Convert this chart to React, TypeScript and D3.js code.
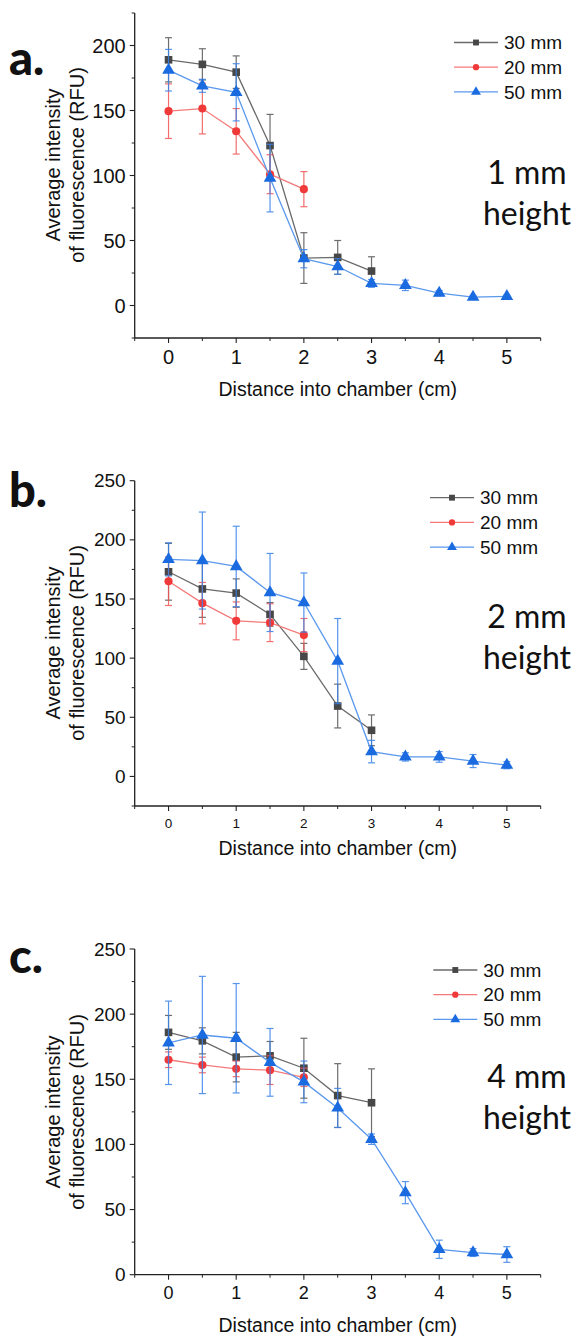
import React from "react";
import * as d3 from "d3";

const distances = [0, 0.5, 1, 1.5, 2, 2.5, 3, 3.5, 4, 4.5, 5];
const seriesNames = ["30 mm", "20 mm", "50 mm"];
const xTicks = [0, 1, 2, 3, 4, 5];

// Panel a (1 mm height)
const a30 = [189, 185.5, 179.5, 123, 36.5, 37, 26.5];
const a30Err = [17, 12, 12.5, 24, 19.5, 13, 11];
const a20 = [149.5, 151.5, 134, 101, 89.5];
const a20Err = [21, 19.5, 17.5, 15, 13.5];
const a50 = [181, 169, 164, 98, 36, 30, 17, 15.5, 9.5, 6.5, 7];
const a50Err = [16, 5, 22, 26, 7, 6, 3, 4, 2, 1, 1];
const aYTicks = [0, 50, 100, 150, 200];

// Panel b (2 mm height)
const b30 = [173, 158.5, 155, 137, 101.5, 59.5, 39];
const b30Err = [24, 24, 12, 10, 11, 18.5, 13];
const b20 = [165, 146.5, 131.5, 130, 119.5];
const b20Err = [20.5, 17.5, 16, 16, 14];
const b50 = [183.5, 182.5, 177.5, 155.5, 147, 97.5, 21, 16.5, 16.5, 13, 9.5];
const b50Err = [14, 41, 34, 33, 25, 36, 9.5, 3.5, 4.5, 5.5, 3];
const bYTicks = [0, 50, 100, 150, 200, 250];

// Panel c (4 mm height)
const c30 = [186, 179.5, 167, 168, 158.5, 137.5, 132];
const c30Err = [13, 10, 19, 11, 23, 24.5, 26];
const c20 = [165, 161, 158, 157, 151.5];
const c20Err = [6, 6, 6, 11, 7];
const c50 = [178, 184, 181.5, 163, 148, 128, 104, 63, 19.5, 17, 15.5];
const c50Err = [32, 45, 42, 26, 16, 15, 4, 8.5, 7, 3, 6];
const cYTicks = [0, 50, 100, 150, 200, 250];

const COLORS = [
  { marker: "#474747", line: "#6a6a6a", err: "#555555" },
  { marker: "#f03a3a", line: "#f47a7a", err: "#f25555" },
  { marker: "#1a6be0", line: "#5a98ee", err: "#3a83ea" },
];
const SYMBOLS = [d3.symbolSquare, d3.symbolCircle, d3.symbolTriangle];
const SIZES = [58, 52, 70];

const SANS = "'Liberation Sans', Arial, sans-serif";
const CAL = "Lato, 'Open Sans', sans-serif";

type PanelCfg = {
  letter: string;
  height: string;
  series: { vals: number[]; errs: number[] }[];
  yDomain: [number, number];
  yRange: [number, number];
  yTicks: number[];
  yMinor: number[];
  yTickFont: number;
  xTickFont: number;
  xTickY: number;
  xTitleY: number;
  yTitleCy: number;
  letterY: number;
  legendX: number;
  legendY: number;
  heightLabelY: number;
};

const xDomain: [number, number] = [-0.5, 5.5];
const xRange: [number, number] = [134.7, 540.7];

function Panel({ cfg }: { cfg: PanelCfg }) {
  const x = d3.scaleLinear().domain(xDomain).range(xRange);
  const y = d3.scaleLinear().domain(cfg.yDomain).range(cfg.yRange);
  const xMinor = d3.range(-0.5, 5.51, 0.5).filter((v) => !xTicks.includes(v));
  const line = d3
    .line<number>()
    .x((_, i) => x(distances[i]))
    .y((d) => y(d));
  const y0 = cfg.yRange[0];
  const axisX = xRange[0];
  return (
    <g>
      {/* axes */}
      <line x1={axisX} x2={axisX} y1={cfg.yRange[0]} y2={cfg.yRange[1]} stroke="#222" strokeWidth={1.3} />
      <line x1={xRange[0]} x2={xRange[1]} y1={y0} y2={y0} stroke="#222" strokeWidth={1.3} />
      {cfg.yTicks.map((t) => (
        <g key={"yt" + t}>
          <line x1={axisX - 5} x2={axisX} y1={y(t)} y2={y(t)} stroke="#222" strokeWidth={1.1} />
          <text x={axisX - 9} y={y(t)} dy="0.35em" textAnchor="end" fontFamily={SANS} fontSize={cfg.yTickFont} fill="#111">
            {t}
          </text>
        </g>
      ))}
      {cfg.yMinor.map((t) => (
        <line key={"ym" + t} x1={axisX - 3} x2={axisX} y1={y(t)} y2={y(t)} stroke="#222" strokeWidth={1} />
      ))}
      {xTicks.map((t) => (
        <g key={"xt" + t}>
          <line x1={x(t)} x2={x(t)} y1={y0} y2={y0 + 5} stroke="#222" strokeWidth={1.1} />
          <text x={x(t)} y={cfg.xTickY} dy="0.35em" textAnchor="middle" fontFamily={SANS} fontSize={cfg.xTickFont} fill="#111">
            {t}
          </text>
        </g>
      ))}
      {xMinor.map((t) => (
        <line key={"xm" + t} x1={x(t)} x2={x(t)} y1={y0} y2={y0 + 3} stroke="#222" strokeWidth={1} />
      ))}
      <text x={(xRange[0] + xRange[1]) / 2} y={cfg.xTitleY} dy="0.35em" textAnchor="middle" fontFamily={SANS} fontSize={19.5} fill="#111">
        Distance into chamber (cm)
      </text>
      <g transform={`translate(53,${cfg.yTitleCy}) rotate(-90)`}>
        <text x={0} y={0} dy="0.35em" textAnchor="middle" fontFamily={SANS} fontSize={20} fill="#111">
          Average intensity
        </text>
        <text x={0} y={24} dy="0.35em" textAnchor="middle" fontFamily={SANS} fontSize={20} fill="#111">
          of fluorescence (RFU)
        </text>
      </g>
      {/* panel letter */}
      <text x={9} y={cfg.letterY} fontFamily={CAL} fontWeight={900} fontSize={47} fill="#111">
        {cfg.letter}
      </text>
      {/* height label */}
      <text x={527} y={cfg.heightLabelY} dy="0.35em" textAnchor="middle" fontFamily={CAL} fontSize={32} fill="#111">
        {cfg.height}
      </text>
      <text x={527} y={cfg.heightLabelY + 41} dy="0.35em" textAnchor="middle" fontFamily={CAL} fontSize={32} fill="#111">
        height
      </text>
      {/* series */}
      {cfg.series.map((s, si) => {
        const c = COLORS[si];
        const sym = d3.symbol().type(SYMBOLS[si]).size(SIZES[si])();
        return (
          <g key={"s" + si}>
            <path d={line(s.vals) || ""} fill="none" stroke={c.line} strokeWidth={1.3} />
            {s.vals.map((v, i) => {
              const cx = x(distances[i]);
              const top = y(v + s.errs[i]);
              const bot = y(v - s.errs[i]);
              return (
                <g key={"e" + i} stroke={c.err} strokeWidth={1.2} opacity={0.85}>
                  <line x1={cx} x2={cx} y1={top} y2={bot} />
                  <line x1={cx - 3.5} x2={cx + 3.5} y1={top} y2={top} />
                  <line x1={cx - 3.5} x2={cx + 3.5} y1={bot} y2={bot} />
                </g>
              );
            })}
            {s.vals.map((v, i) => (
              <path key={"m" + i} d={sym || ""} transform={`translate(${x(distances[i])},${y(v)})`} fill={c.marker} />
            ))}
          </g>
        );
      })}
      {/* legend */}
      {seriesNames.map((n, i) => {
        const ly = cfg.legendY + i * 24.7;
        const c = COLORS[i];
        const sym = d3.symbol().type(SYMBOLS[i]).size(SIZES[i] * 0.6)();
        return (
          <g key={"l" + i}>
            <line x1={cfg.legendX} x2={cfg.legendX + 44} y1={ly} y2={ly} stroke={c.line} strokeWidth={1.3} />
            <path d={sym || ""} transform={`translate(${cfg.legendX + 22},${ly})`} fill={c.marker} />
            <text x={cfg.legendX + 50} y={ly} dy="0.35em" fontFamily={SANS} fontSize={19} fill="#111">
              {n}
            </text>
          </g>
        );
      })}
    </g>
  );
}

const panels: PanelCfg[] = [
  {
    letter: "a.",
    height: "1 mm",
    series: [
      { vals: a30, errs: a30Err },
      { vals: a20, errs: a20Err },
      { vals: a50, errs: a50Err },
    ],
    yDomain: [-25, 225],
    yRange: [338, 13],
    yTicks: aYTicks,
    yMinor: [-25, 25, 75, 125, 175, 225],
    yTickFont: 20,
    xTickFont: 20,
    xTickY: 357,
    xTitleY: 389,
    yTitleCy: 165,
    letterY: 75,
    legendX: 454,
    legendY: 42.5,
    heightLabelY: 173,
  },
  {
    letter: "b.",
    height: "2 mm",
    series: [
      { vals: b30, errs: b30Err },
      { vals: b20, errs: b20Err },
      { vals: b50, errs: b50Err },
    ],
    yDomain: [-25, 250],
    yRange: [806, 480.7],
    yTicks: bYTicks,
    yMinor: [-25, 25, 75, 125, 175, 225],
    yTickFont: 19,
    xTickFont: 13.5,
    xTickY: 823,
    xTitleY: 848,
    yTitleCy: 643,
    letterY: 507,
    legendX: 430,
    legendY: 497.7,
    heightLabelY: 617,
  },
  {
    letter: "c.",
    height: "4 mm",
    series: [
      { vals: c30, errs: c30Err },
      { vals: c20, errs: c20Err },
      { vals: c50, errs: c50Err },
    ],
    yDomain: [0, 250],
    yRange: [1274.7, 949],
    yTicks: cYTicks,
    yMinor: [25, 75, 125, 175, 225],
    yTickFont: 19,
    xTickFont: 18,
    xTickY: 1293,
    xTitleY: 1325,
    yTitleCy: 1112,
    letterY: 973,
    legendX: 433.3,
    legendY: 970,
    heightLabelY: 1077,
  },
];

export default function App() {
  return (
    <svg width={575} height={1337} style={{ position: "absolute", left: 0, top: 0, background: "#fff" }}>
      {panels.map((p) => (
        <Panel key={p.letter} cfg={p} />
      ))}
    </svg>
  );
}
